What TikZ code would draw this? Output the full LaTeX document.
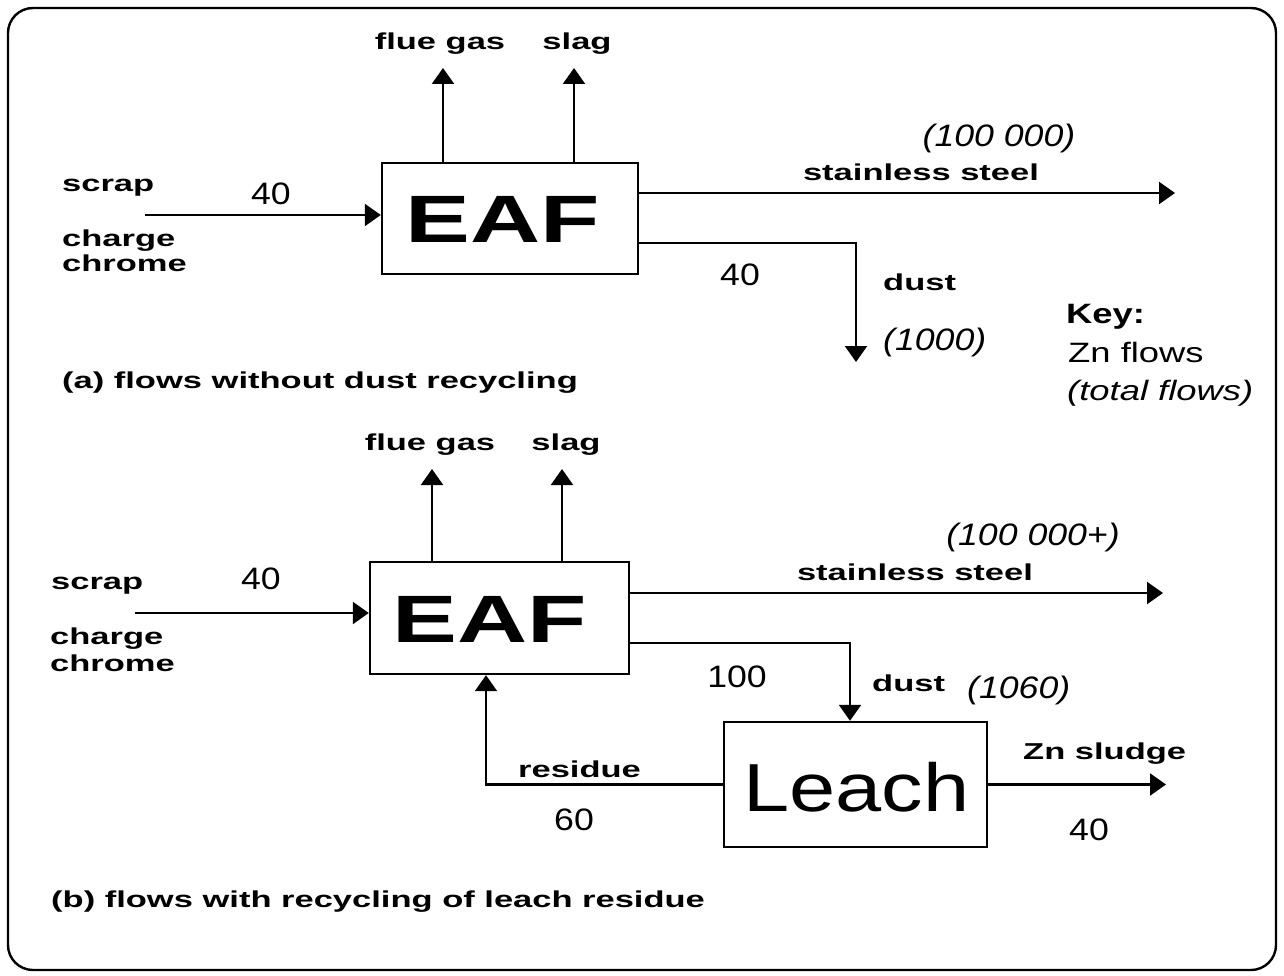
\documentclass[tikz,border=0pt]{standalone}
\usepackage{fontspec}
\setmainfont{Liberation Sans}
\newfontfamily\lblfont[FakeStretch=1.5]{Liberation Sans}
\newfontfamily\numfont[FakeStretch=1.15]{Liberation Sans}
\newfontfamily\keyfont[FakeStretch=1.3]{Liberation Sans}
\newfontfamily\eaffont[FakeStretch=1.45]{Liberation Sans}
\newfontfamily\leachfont[FakeStretch=1.22]{Liberation Sans}
\usetikzlibrary{arrows.meta}
\begin{document}
\begin{tikzpicture}[x=1pt,y=-1pt,
  lbl/.style={font=\lblfont\bfseries\fontsize{23}{27}\selectfont, inner sep=0pt, anchor=base west},
  num/.style={font=\numfont\fontsize{31}{35}\selectfont, inner sep=0pt, anchor=base},
  numi/.style={font=\numfont\itshape\fontsize{31}{35}\selectfont, inner sep=0pt, anchor=base west},
  keyb/.style={font=\keyfont\bfseries\fontsize{28}{32}\selectfont, inner sep=0pt, anchor=base west},
  keyt/.style={font=\keyfont\fontsize{28}{32}\selectfont, inner sep=0pt, anchor=base west},
  keyi/.style={font=\keyfont\itshape\fontsize{28}{32}\selectfont, inner sep=0pt, anchor=base west},
  unit/.style={draw, line width=2.4pt, inner sep=0pt},
  eaftxt/.style={font=\eaffont\bfseries\fontsize{67}{70}\selectfont, inner sep=0pt},
  leachtxt/.style={font=\leachfont\fontsize{68}{72}\selectfont, inner sep=0pt},
  flow/.style={line width=2.2pt, -{Triangle[length=16pt,width=22pt]}}
]
\useasboundingbox (0,0) rectangle (1284,976);
\node[draw, line width=2.4pt, rounded corners=25pt, minimum width=1268pt, minimum height=962pt, inner sep=0pt] (frame) at (642,489) {};

% ---------- (a) ----------
\node[unit, minimum width=256pt, minimum height=111pt] (eafa) at (510,218.5) {};
\node[eaftxt] (eafta) at (502.5,219) {EAF};
\coordinate (fga) at (443,68);
\coordinate (sla) at (574,68);
\draw[flow] (eafa.north -| fga) -- (fga);
\draw[flow] (eafa.north -| sla) -- (sla);
\node[lbl, anchor=base] (lfga) at (440,50) {flue gas};
\node[lbl, anchor=base] (lsla) at (577,50) {slag};

\coordinate (ina) at (145,215);
\draw[flow] (ina) -- (ina -| eafa.west);
\node[lbl] (scrapa) at (62,192) {scrap};
\node[lbl] (chargea) at (62,247) {charge};
\node[lbl] (chromea) at (62,272) {chrome};
\node[num] (n40a) at (271,205) {40};

\coordinate (ssa) at (1175,193);
\draw[flow] (eafa.east |- ssa) -- (ssa);
\node[lbl, anchor=base] (lssa) at (921,181) {stainless steel};
\node[numi, anchor=base] (tssa) at (999,147) {(100 000)};

\coordinate (dya) at (0,243);
\coordinate (dua) at (856,362);
\draw[flow] (eafa.east |- dya) -| (dua);
\node[num] (n40da) at (740,285) {40};
\node[lbl] (ldua) at (883,290) {dust};
\node[numi] (tdua) at (883,350) {(1000)};
\node[lbl] (capa) at (62,388) {(a) flows without dust recycling};

% ---------- key ----------
\node[keyb] (key) at (1066,323) {Key:};
\node[keyt] (keyzn) at (1068,362) {Zn flows};
\node[keyi] (keytot) at (1067,400) {(total flows)};

% ---------- (b) ----------
\node[unit, minimum width=259pt, minimum height=112pt] (eafb) at (499.5,618) {};
\node[eaftxt] (eaftb) at (490,619) {EAF};
\coordinate (fgb) at (432,469);
\coordinate (slb) at (562,469);
\draw[flow] (eafb.north -| fgb) -- (fgb);
\draw[flow] (eafb.north -| slb) -- (slb);
\node[lbl, anchor=base] (lfgb) at (430,450) {flue gas};
\node[lbl, anchor=base] (lslb) at (566,450) {slag};

\coordinate (inb) at (135,613);
\draw[flow] (inb) -- (inb -| eafb.west);
\node[lbl] (scrapb) at (51,589) {scrap};
\node[lbl] (chargeb) at (50,644) {charge};
\node[lbl] (chromeb) at (50,671) {chrome};
\node[num] (n40b) at (261,589) {40};

\coordinate (ssb) at (1163,593);
\draw[flow] (eafb.east |- ssb) -- (ssb);
\node[lbl, anchor=base] (lssb) at (915,580) {stainless steel};
\node[numi, anchor=base] (tssb) at (1033,545) {(100 000+)};

\node[unit, minimum width=263pt, minimum height=125pt] (leach) at (855.5,784.5) {};
\node[leachtxt] (leacht) at (856.5,787.5) {Leach};

\coordinate (dyb) at (0,643);
\coordinate (dxb) at (850,0);
\draw[flow] (eafb.east |- dyb) -| (leach.north -| dxb);
\node[num] (n100b) at (737,687) {100};
\node[lbl] (ldub) at (872,691) {dust};
\node[numi] (tdub) at (967,698) {(1060)};

\coordinate (rb) at (486,784.5);
\draw[flow] (leach.west) -- (rb) -- (rb |- eafb.south);
\node[lbl] (lres) at (518,777) {residue};
\node[num] (n60b) at (574,830) {60};

\coordinate (znb) at (1166,784.5);
\draw[flow] (leach.east) -- (znb);
\node[lbl] (lzn) at (1023,759) {Zn sludge};
\node[num] (n40zb) at (1089,840) {40};

\node[lbl] (capb) at (51,907) {(b) flows with recycling of leach residue};
\end{tikzpicture}
\end{document}
